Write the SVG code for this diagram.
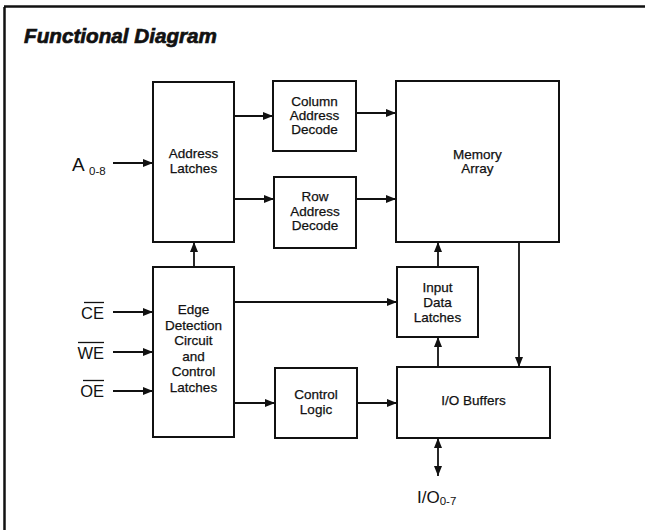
<svg xmlns="http://www.w3.org/2000/svg" width="645" height="530" viewBox="0 0 645 530">
<style>
.box{fill:#fff;stroke:#111;stroke-width:2}
.t{font-family:"Liberation Sans",Arial,sans-serif;font-size:13.5px;fill:#111;stroke:#111;stroke-width:0.25;text-anchor:middle}
.lbl{font-family:"Liberation Sans",Arial,sans-serif;fill:#111}
.c{fill:none;stroke:#111;stroke-width:1.8}
</style>
<defs>
<marker id="ah" viewBox="0 0 10 8" refX="10" refY="4" markerWidth="10" markerHeight="8" markerUnits="userSpaceOnUse" orient="auto-start-reverse">
<path d="M0,0 L10,4 L0,8 z" fill="#111"/>
</marker>
</defs>
<rect x="0" y="0" width="645" height="530" fill="#fff"/>
<g id="frame">
<line x1="4.5" y1="7" x2="4.5" y2="530" stroke="#111" stroke-width="2.5"/>
<line x1="4" y1="6.5" x2="645" y2="6.5" stroke="#111" stroke-width="2.5"/>
</g>
<text x="24" y="43" font-family="'Liberation Sans',Arial,sans-serif" font-weight="bold" font-style="italic" font-size="21" textLength="193" lengthAdjust="spacingAndGlyphs" fill="#111" stroke="#111" stroke-width="0.7">Functional Diagram</text>

<g id="connectors">
<line class="c" x1="113" y1="163" x2="153" y2="163" marker-end="url(#ah)"/>
<line class="c" x1="113" y1="312" x2="153" y2="312" marker-end="url(#ah)"/>
<line class="c" x1="113" y1="352" x2="153" y2="352" marker-end="url(#ah)"/>
<line class="c" x1="113" y1="391" x2="153" y2="391" marker-end="url(#ah)"/>
<line class="c" x1="234" y1="116" x2="273" y2="116" marker-end="url(#ah)"/>
<line class="c" x1="234" y1="199" x2="274" y2="199" marker-end="url(#ah)"/>
<line class="c" x1="356" y1="113" x2="396" y2="113" marker-end="url(#ah)"/>
<line class="c" x1="356" y1="199" x2="396" y2="199" marker-end="url(#ah)"/>
<line class="c" x1="194" y1="267" x2="194" y2="242" marker-end="url(#ah)"/>
<line class="c" x1="234" y1="302" x2="397" y2="302" marker-end="url(#ah)"/>
<line class="c" x1="234" y1="403" x2="275" y2="403" marker-end="url(#ah)"/>
<line class="c" x1="357" y1="403" x2="397" y2="403" marker-end="url(#ah)"/>
<line class="c" x1="438" y1="267" x2="438" y2="242" marker-end="url(#ah)"/>
<line class="c" x1="438" y1="367" x2="438" y2="337" marker-end="url(#ah)"/>
<line class="c" x1="519" y1="242" x2="519" y2="367" marker-end="url(#ah)"/>
<line class="c" x1="438" y1="438" x2="438" y2="476" marker-start="url(#ah)" marker-end="url(#ah)"/>
</g>

<g id="address-latches">
<rect class="box" x="153" y="82" width="81" height="160"/>
<text class="t" x="193.5" y="158">Address</text>
<text class="t" x="193.5" y="173">Latches</text>
</g>
<g id="edge-detection">
<rect class="box" x="153" y="267" width="81" height="170"/>
<text class="t" x="193.5" y="314">Edge</text>
<text class="t" x="193.5" y="330">Detection</text>
<text class="t" x="193.5" y="345">Circuit</text>
<text class="t" x="193.5" y="361">and</text>
<text class="t" x="193.5" y="376">Control</text>
<text class="t" x="193.5" y="392">Latches</text>
</g>
<g id="column-decode">
<rect class="box" x="273" y="81" width="83" height="70"/>
<text class="t" x="314.5" y="106">Column</text>
<text class="t" x="314.5" y="120">Address</text>
<text class="t" x="314.5" y="134">Decode</text>
</g>
<g id="row-decode">
<rect class="box" x="274" y="177" width="82" height="71"/>
<text class="t" x="315" y="201">Row</text>
<text class="t" x="315" y="216">Address</text>
<text class="t" x="315" y="230">Decode</text>
</g>
<g id="memory-array">
<rect class="box" x="396" y="81" width="163" height="161"/>
<text class="t" x="477.5" y="159">Memory</text>
<text class="t" x="477.5" y="173">Array</text>
</g>
<g id="input-data-latches">
<rect class="box" x="397" y="267" width="81" height="70"/>
<text class="t" x="437.5" y="292">Input</text>
<text class="t" x="437.5" y="307">Data</text>
<text class="t" x="437.5" y="322">Latches</text>
</g>
<g id="control-logic">
<rect class="box" x="275" y="368" width="82" height="70"/>
<text class="t" x="316" y="399">Control</text>
<text class="t" x="316" y="414">Logic</text>
</g>
<g id="io-buffers">
<rect class="box" x="397" y="367" width="153" height="71"/>
<text class="t" x="473.5" y="405">I/O Buffers</text>
</g>

<g id="labels">
<text class="lbl" x="72" y="171" font-size="19">A</text>
<text class="lbl" x="89" y="175" font-size="11.5">0-8</text>
<text class="lbl" x="104" y="319" font-size="16.5" text-anchor="end">CE</text>
<line x1="84" y1="302.5" x2="104" y2="302.5" stroke="#111" stroke-width="1.3"/>
<text class="lbl" x="104" y="359" font-size="16.5" text-anchor="end">WE</text>
<line x1="78" y1="342.5" x2="104" y2="342.5" stroke="#111" stroke-width="1.3"/>
<text class="lbl" x="104" y="397" font-size="16.5" text-anchor="end">OE</text>
<line x1="83" y1="380.5" x2="104" y2="380.5" stroke="#111" stroke-width="1.3"/>
<text class="lbl" x="417" y="503" font-size="17">I/O<tspan font-size="11.5" dy="2">0-7</tspan></text>
</g>
</svg>
